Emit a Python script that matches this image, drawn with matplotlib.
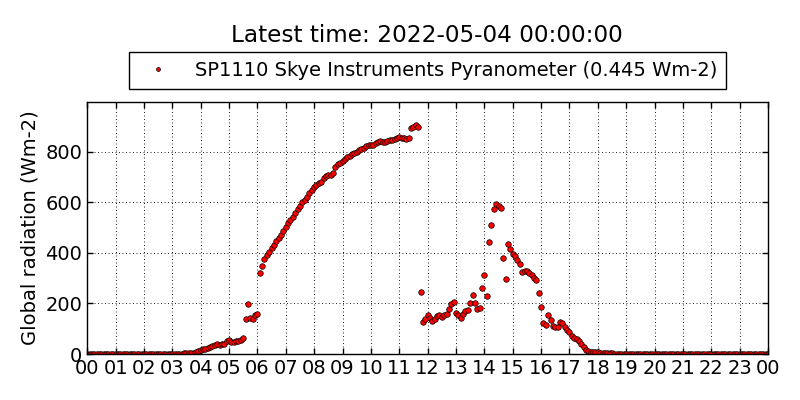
import numpy as np
import matplotlib
matplotlib.use("Agg")
import matplotlib.pyplot as plt

# 5-minute readings, Wm-2, one row per hour
night_am = [0] * 36  # 00:00 - 02:55
h03 = [0, 0, 0, 1, 1, 2, 2, 3, 4, 5, 8, 12]
h04 = [16, 18, 20, 22, 26, 30, 34, 38, 37, 40, 41, 50]
h05 = [57, 46, 46, 51, 53, 54, 65, 140, 197, 144, 139, 156]
h06 = [160, 322, 350, 377, 392, 405, 420, 432, 449, 459, 471, 487]
h07 = [503, 517, 531, 544, 558, 573, 586, 603, 610, 623, 637, 650]
h08 = [663, 669, 678, 681, 698, 705, 709, 710, 718, 742, 751, 758]
h09 = [766, 773, 781, 785, 792, 797, 801, 808, 812, 817, 822, 826]
h10 = [826, 829, 834, 838, 842, 840, 841, 845, 847, 848, 850, 854]
h11 = [858, 854, 855, 852, 856, 894, 900, 907, 900, 247, 128, 139]
h12 = [154, 141, 132, 139, 150, 154, 146, 154, 160, 178, 198, 207]
h13 = [164, 153, 144, 158, 171, 175, 203, 235, 203, 178, 182, 263]
h14 = [314, 231, 445, 512, 575, 594, 587, 580, 381, 298, 437, 417]
h15 = [397, 387, 372, 356, 326, 329, 330, 320, 312, 302, 293, 243]
h16 = [187, 124, 115, 154, 135, 111, 107, 107, 128, 124, 108, 94]
h17 = [88, 73, 65, 59, 53, 38, 29, 17, 11, 9, 9, 9]
h18 = [6, 4, 3, 3, 2, 2, 2, 1, 1, 1, 0, 0]
night_pm = [0] * 61  # 19:00 - 24:00

rad = np.array(night_am + h03 + h04 + h05 + h06 + h07 + h08 + h09 + h10
               + h11 + h12 + h13 + h14 + h15 + h16 + h17 + h18 + night_pm, dtype=float)
hours = np.arange(len(rad)) * 5 / 60.0

tick_hours = np.arange(0, 25)
tick_labels = ["%02d" % (h % 24) for h in tick_hours]

plt.rcParams["font.family"] = "DejaVu Sans"
plt.rcParams["xtick.direction"] = "in"
plt.rcParams["ytick.direction"] = "in"

fig = plt.figure(figsize=(8, 4), dpi=100)
ax = fig.add_axes([0.109, 0.115, 0.851, 0.63])

ax.plot(hours, rad, "o", color="red", markeredgecolor="black", markeredgewidth=0.5,
        markersize=4, label="SP1110 Skye Instruments Pyranometer (0.445 Wm-2)")

ax.set_xlim(0, 24)
ax.set_ylim(0, rad.max() * 1.1)
ax.set_xticks(tick_hours)
ax.set_xticklabels(tick_labels, fontsize=14)
ax.set_yticks([0, 200, 400, 600, 800])
ax.tick_params(axis="y", labelsize=14)
ax.tick_params(which="both", top=True, right=True, length=4, width=1)
ax.grid(True, color="black", linestyle=(0, (1.2, 3)), linewidth=0.6)
for s in ax.spines.values():
    s.set_linewidth(1)
ax.set_ylabel("Global radiation (Wm-2)", fontsize=14)

fig.text(0.534, 0.912, "Latest time: 2022-05-04 00:00:00", ha="center", va="center", fontsize=16.7)
leg = ax.legend(loc="center", bbox_to_anchor=(0.5, 1.125), numpoints=1, markerscale=0.7,
                fontsize=14, fancybox=False, edgecolor="black", framealpha=1,
                borderpad=0.45, handletextpad=0.9)
leg.get_frame().set_linewidth(1)

fig.savefig("out.png", dpi=100)
